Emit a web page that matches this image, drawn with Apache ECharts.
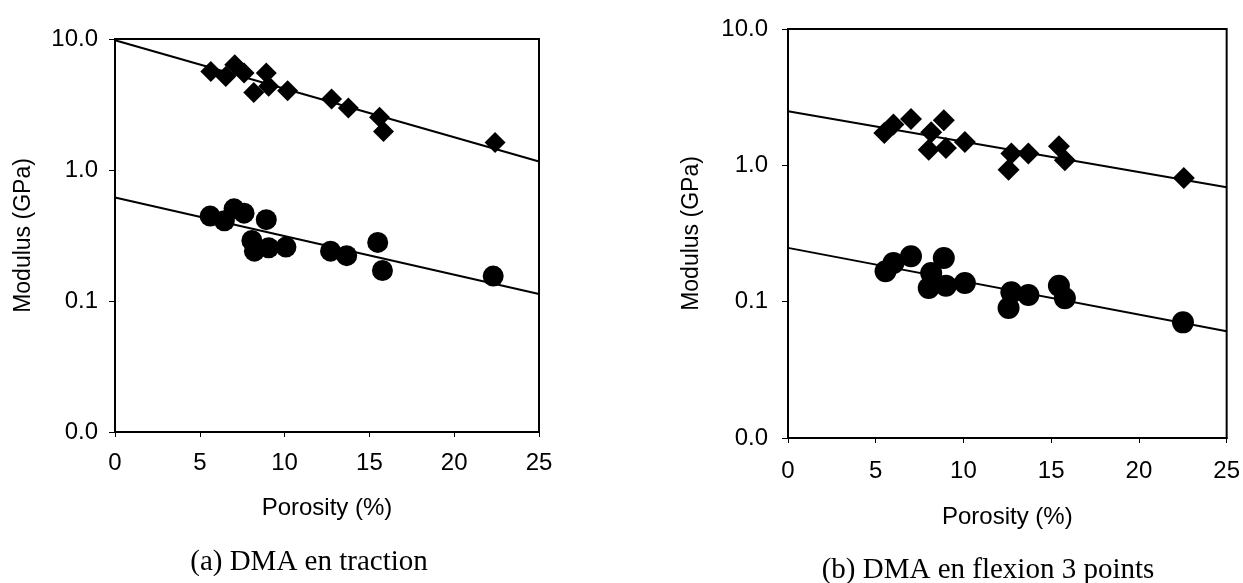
<!DOCTYPE html>
<html>
<head>
<meta charset="utf-8">
<script src="https://cdn.jsdelivr.net/npm/echarts@6/dist/echarts.min.js"></script>
<style>
html,body{margin:0;padding:0;background:#fff;}
#chart{width:1243px;height:583px;}
</style>
</head>
<body>
<div id="chart"></div>
<script>
// ---- Data ----
var xTicksLabel = [0, 5, 10, 15, 20, 25];
var yTicksLabel = ['0.0', '0.1', '1.0', '10.0'];

// (a) DMA en traction
var aDiamondPorosity = [5.65, 6.53, 7.06, 7.61, 8.18, 8.92, 9.06, 10.18, 12.77, 13.76, 15.6, 15.83, 22.41];
var aDiamondModulus  = [5.66, 5.18, 6.36, 5.5, 3.91, 5.5, 4.35, 4.03, 3.48, 2.97, 2.53, 1.97, 1.62];
var aCirclePorosity  = [5.61, 6.45, 7.02, 7.61, 8.92, 8.07, 8.22, 9.06, 10.08, 12.71, 13.66, 15.49, 15.77, 22.3];
var aCircleModulus   = [0.445, 0.41, 0.505, 0.468, 0.418, 0.29, 0.24, 0.255, 0.258, 0.24, 0.222, 0.28, 0.171, 0.155];
var aFitX = [0, 25];
var aDiamondFit = [9.77, 1.16];
var aCircleFit  = [0.616, 0.113];

// (b) DMA en flexion 3 points
var bDiamondPorosity = [5.49, 6.01, 7.01, 8.16, 8.02, 8.88, 9.0, 10.08, 12.73, 12.57, 13.7, 15.44, 15.78, 22.56];
var bDiamondModulus  = [1.73, 1.99, 2.19, 1.75, 1.30, 2.14, 1.34, 1.48, 1.22, 0.93, 1.22, 1.38, 1.09, 0.807];
var bCirclePorosity  = [5.56, 6.01, 7.01, 8.16, 8.88, 8.02, 9.0, 10.08, 12.73, 12.57, 13.7, 15.44, 15.78, 22.51];
var bCircleModulus   = [0.167, 0.192, 0.215, 0.162, 0.209, 0.126, 0.131, 0.137, 0.117, 0.090, 0.112, 0.131, 0.106, 0.0705];
var bFitX = [0, 25];
var bDiamondFit = [2.49, 0.69];
var bCircleFit  = [0.248, 0.0606];

var xTitle = 'Porosity (%)';
var yTitle = 'Modulus (GPa)';
var captionA = '(a) DMA en traction';
var captionB = '(b) DMA en flexion 3 points';

function pairs(xs, ys){ return xs.map(function(x,i){ return [x, ys[i]]; }); }

var SANS = '"Liberation Sans", Arial, sans-serif';
var SERIF = '"Liberation Serif", "Times New Roman", serif';

function xAxisCfg(gi, margin, gap){
  return {
    type:'value', gridIndex:gi, min:0, max:25, interval:5,
    name:xTitle, nameLocation:'middle', nameGap:gap,
    nameTextStyle:{fontFamily:SANS, fontSize:24, color:'#000'},
    axisLine:{show:true, onZero:false, lineStyle:{color:'#000', width:2}},
    axisTick:{show:true, inside:false, length:5, lineStyle:{color:'#000', width:1}},
    axisLabel:{fontFamily:SANS, fontSize:24, color:'#000', margin:margin,
      formatter:function(v){ return xTicksLabel.indexOf(v) >= 0 ? String(v) : ''; }},
    splitLine:{show:false}
  };
}
function yAxisCfg(gi, margin, gap){
  return {
    type:'log', logBase:10, gridIndex:gi, min:0.01, max:10,
    name:yTitle, nameLocation:'middle', nameGap:gap,
    nameTextStyle:{fontFamily:SANS, fontSize:23, color:'#000'},
    axisLine:{show:true, lineStyle:{color:'#000', width:2}},
    axisTick:{show:true, inside:false, length:6, lineStyle:{color:'#000', width:1}},
    axisLabel:{fontFamily:SANS, fontSize:24, color:'#000', margin:margin,
      formatter:function(v){
        var e = Math.round(Math.log10(v)) + 2;
        return yTicksLabel[e] !== undefined ? yTicksLabel[e] : '';
      }},
    splitLine:{show:false}
  };
}
function scatter(gi, data, sym, size){
  return {type:'scatter', xAxisIndex:gi, yAxisIndex:gi, data:data, symbol:sym, symbolSize:size,
    itemStyle:{color:'#000', opacity:1}, silent:true, z:3};
}
function fit(gi, data){
  return {type:'line', xAxisIndex:gi, yAxisIndex:gi, data:data, symbol:'none',
    lineStyle:{color:'#000', width:2}, silent:true, z:2};
}

var chart = echarts.init(document.getElementById('chart'), null, {renderer:'canvas'});
chart.setOption({
  animation:false,
  backgroundColor:'#fff',
  grid:[
    {left:115, top:39, width:424, height:393, show:true, borderColor:'#000', borderWidth:2, backgroundColor:'transparent'},
    {left:788, top:29, width:439, height:409, show:true, borderColor:'#000', borderWidth:2, backgroundColor:'transparent'}
  ],
  xAxis:[ xAxisCfg(0, 19, 64), xAxisCfg(1, 21, 67) ],
  yAxis:[ yAxisCfg(0, 17, 80), yAxisCfg(1, 20, 85) ],
  series:[
    fit(0, pairs(aFitX, aDiamondFit)),
    fit(0, pairs(aFitX, aCircleFit)),
    scatter(0, pairs(aDiamondPorosity, aDiamondModulus), 'diamond', 21),
    scatter(0, pairs(aCirclePorosity, aCircleModulus), 'circle', 21),
    fit(1, pairs(bFitX, bDiamondFit)),
    fit(1, pairs(bFitX, bCircleFit)),
    scatter(1, pairs(bDiamondPorosity, bDiamondModulus), 'diamond', 22),
    scatter(1, pairs(bCirclePorosity, bCircleModulus), 'circle', 22)
  ],
  graphic:[
    {type:'text', x:309, y:562, style:{text:captionA, font:'29px ' + SERIF, fill:'#000', textAlign:'center', textVerticalAlign:'middle'}},
    {type:'text', x:988, y:570, style:{text:captionB, font:'29px ' + SERIF, fill:'#000', textAlign:'center', textVerticalAlign:'middle'}}
  ]
});
</script>
</body>
</html>
